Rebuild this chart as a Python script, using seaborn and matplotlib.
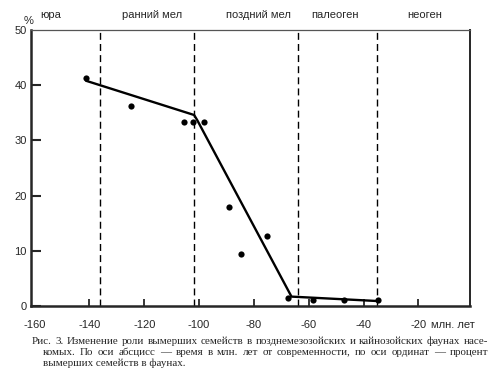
import matplotlib
matplotlib.use('Agg')
import matplotlib.pyplot as plt
import seaborn as sns
import pandas as pd

# точки: возраст фауны (млн. лет) и процент вымерших семейств
ages = [-141.4, -125.0, -105.6, -102.1, -98.3, -89.2, -84.8, -75.4, -67.7, -58.4, -47.1, -34.9]
extinct_pct = [41.3, 36.2, 33.3, 33.3, 33.3, 18.0, 9.5, 12.7, 1.4, 1.0, 1.0, 1.0]

# ломаная тренда
trend_x = [-141.2, -101.8, -100.6, -66.3, -35.0]
trend_y = [40.8, 34.6, 33.6, 1.7, 0.9]

# границы периодов и подписи
boundaries = [-136, -102, -64, -35]
periods = ['юра', 'ранний мел', 'поздний мел', 'палеоген', 'неоген']
period_x = [-154, -117, -78.5, -50.5, -17.7]

x_ticks = [-160, -140, -120, -100, -80, -60, -40, -20]
y_ticks = [0, 10, 20, 30, 40, 50]

caption = [
    'Рис. 3. Изменение роли вымерших семейств в позднемезозойских и кайнозойских фаунах насе-',
    'комых. По оси абсцисс — время в млн. лет от современности, по оси ординат — процент',
    'вымерших семейств в фаунах.',
]

sns.set_style('ticks')
plt.rcParams['font.family'] = ['Liberation Sans', 'DejaVu Sans']

pts = pd.DataFrame({'age': ages, 'pct': extinct_pct})
trend = pd.DataFrame({'age': trend_x, 'pct': trend_y})

fig = plt.figure(figsize=(4.95, 3.86), dpi=100)
ax = fig.add_axes([31 / 495, 1 - 306 / 386, 439 / 495, 276 / 386])

for b in boundaries:
    ax.axvline(b, color='black', lw=1.0, ls=(0, (5, 3)), zorder=1)

sns.lineplot(data=trend, x='age', y='pct', ax=ax, color='black', lw=1.7,
             sort=False, estimator=None, zorder=3)
sns.scatterplot(data=pts, x='age', y='pct', ax=ax, color='black', s=20,
                edgecolor='black', linewidth=0, zorder=4)

ax.set_xlim(-161.3, -1.2)
ax.set_ylim(0, 50)
ax.set_xticks(x_ticks)
ax.set_xticklabels([str(t) for t in x_ticks])
ax.set_yticks(y_ticks)
ax.set_xlabel('')
ax.set_ylabel('')

ax.tick_params(axis='y', direction='in', length=7, width=1.5, pad=3, labelsize=8)
ax.tick_params(axis='x', direction='in', length=5, width=1.3, pad=10, labelsize=8)
ax.xaxis.get_major_ticks()[0].tick1line.set_visible(False)
ax.yaxis.get_major_ticks()[-1].tick1line.set_visible(False)

for side in ['left', 'bottom']:
    ax.spines[side].set_linewidth(1.8)
ax.spines['right'].set_linewidth(1.4)
ax.spines['top'].set_linewidth(0.9)
ax.spines['top'].set_color('#555555')

for name, px in zip(periods, period_x):
    ax.text(px, 1.0 + 10 / 276, name, transform=ax.get_xaxis_transform(),
            ha='center', va='bottom', fontsize=8)

ax.annotate('%', xy=(0, 1), xycoords='axes fraction', xytext=(-2, 3),
            textcoords='offset points', ha='center', va='bottom', fontsize=8)
ax.annotate('млн. лет', xy=(-20, 0), xycoords=('data', 'axes fraction'),
            xytext=(9, -10), textcoords='offset points', ha='left', va='top', fontsize=8)


# подпись к рисунку: первые две строки выровнены по ширине
def put_line(text, x0, x1, y, justify):
    renderer = fig.canvas.get_renderer()
    words = text.split(' ')
    if not justify:
        fig.text(x0 / 495, 1 - y / 386, text, ha='left', va='center',
                 fontsize=7.9, family='Liberation Serif')
        return
    objs = [fig.text(0, 1 - y / 386, w, ha='left', va='center',
                     fontsize=7.9, family='Liberation Serif') for w in words]
    widths = [o.get_window_extent(renderer).width for o in objs]
    gap = (x1 - x0 - sum(widths)) / (len(words) - 1)
    pos = x0
    for o, w in zip(objs, widths):
        o.set_x(pos / 495)
        pos += w + gap


put_line(caption[0], 32, 488, 341.5, True)
put_line(caption[1], 43, 488, 352.5, True)
put_line(caption[2], 43, 488, 363, False)

fig.savefig('out.png', dpi=100, facecolor='white')
